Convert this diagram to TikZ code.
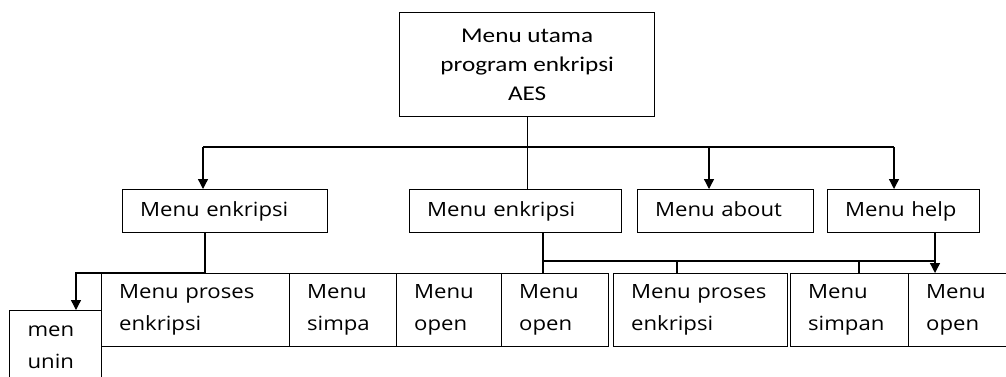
\documentclass[tikz,border=0pt]{standalone}
\usepackage{fontspec}
\usetikzlibrary{arrows.meta}
\newfontfamily\rowfont[FakeStretch=1.13]{Open Sans}
\newfontfamily\topfont[FakeStretch=1.2]{Carlito}
\begin{document}
\begin{tikzpicture}[x=1pt,y=-1pt,
  line width=1.3pt,
  box/.style={draw, anchor=north west, inner xsep=17.5pt, inner ysep=0pt, align=left,
    font=\rowfont\fontsize{19.6}{32}\selectfont},
  arr/.style={-{Triangle[width=10pt,length=10pt]}}]
\useasboundingbox (0,0) rectangle (1006,376);
% top
\node[draw, anchor=north west, minimum width=255pt, minimum height=104pt, align=center,
  inner sep=0pt, font=\topfont\fontsize{21}{29}\selectfont] (top) at (399,12)
  {Menu utama\\program enkripsi\\AES};
% row 2
\node[box, minimum width=205pt, minimum height=43pt, text width=170pt] (e1) at (122,189) {Menu enkripsi};
\node[box, minimum width=212pt, minimum height=43pt, text width=177pt] (e2) at (409,189) {Menu enkripsi};
\node[box, minimum width=176pt, minimum height=43pt, text width=141pt] (ab) at (637,189) {Menu about\vphantom{p}};
\node[box, minimum width=152pt, minimum height=43pt, text width=117pt] (hp) at (827,189) {Menu help};
% row 3
\node[box, minimum width=188pt, minimum height=73pt, text width=153pt] (p1) at (101,273) {Menu proses\\enkripsi};
\node[box, minimum width=107pt, minimum height=73pt, text width=72pt] (s1) at (289,273) {Menu\\simpa};
\node[box, minimum width=105pt, minimum height=73pt, text width=70pt] (o1) at (396,273) {Menu\\open};
\node[box, minimum width=107pt, minimum height=73pt, text width=72pt] (o2) at (501,273) {Menu\\open};
\node[box, minimum width=174pt, minimum height=73pt, text width=139pt] (p2) at (613,273) {Menu proses\\enkripsi};
\node[box, minimum width=118pt, minimum height=73pt, text width=83pt] (s2) at (790,273) {Menu\\simpan};
\node[box, minimum width=130pt, minimum height=73pt, text width=95pt] (o3) at (908,273) {Menu\\open};
\node[draw, anchor=north west, minimum width=92pt, minimum height=100pt, inner sep=0pt] (men) at (9,310) {};
\node[anchor=north west, inner sep=0pt, align=left, font=\rowfont\fontsize{19.6}{32}\selectfont] (mentext) at (27,325) {men\\unin};
% connectors from top
\coordinate (b1) at (203,147);
\coordinate (b2) at (709,147);
\coordinate (b3) at (894,147);
\draw (top.south) -- (top.south |- e2.north);
\draw (b1) -- (b3);
\draw[arr] (b1) -- (b1 |- e1.north);
\draw[arr] (b2) -- (b2 |- ab.north);
\draw[arr] (b3) -- (b3 |- hp.north);
% from e1
\coordinate (c1) at (205,273);
\coordinate (a1) at (76,273);
\draw[arr] (c1 |- e1.south) -- (c1) -- (a1) -- (a1 |- men.north);
% from e2 and help
\coordinate (d1) at (543,261);
\coordinate (d2) at (935,261);
\coordinate (t1) at (677,261);
\coordinate (t2) at (859,261);
\draw (d1 |- e2.south) -- (d1 |- o2.north);
\draw (d1) -- (d2);
\draw (t1) -- (t1 |- p2.north);
\draw (t2) -- (t2 |- s2.north);
\draw[arr] (d2 |- hp.south) -- (d2 |- o3.north);
\end{tikzpicture}
\end{document}
